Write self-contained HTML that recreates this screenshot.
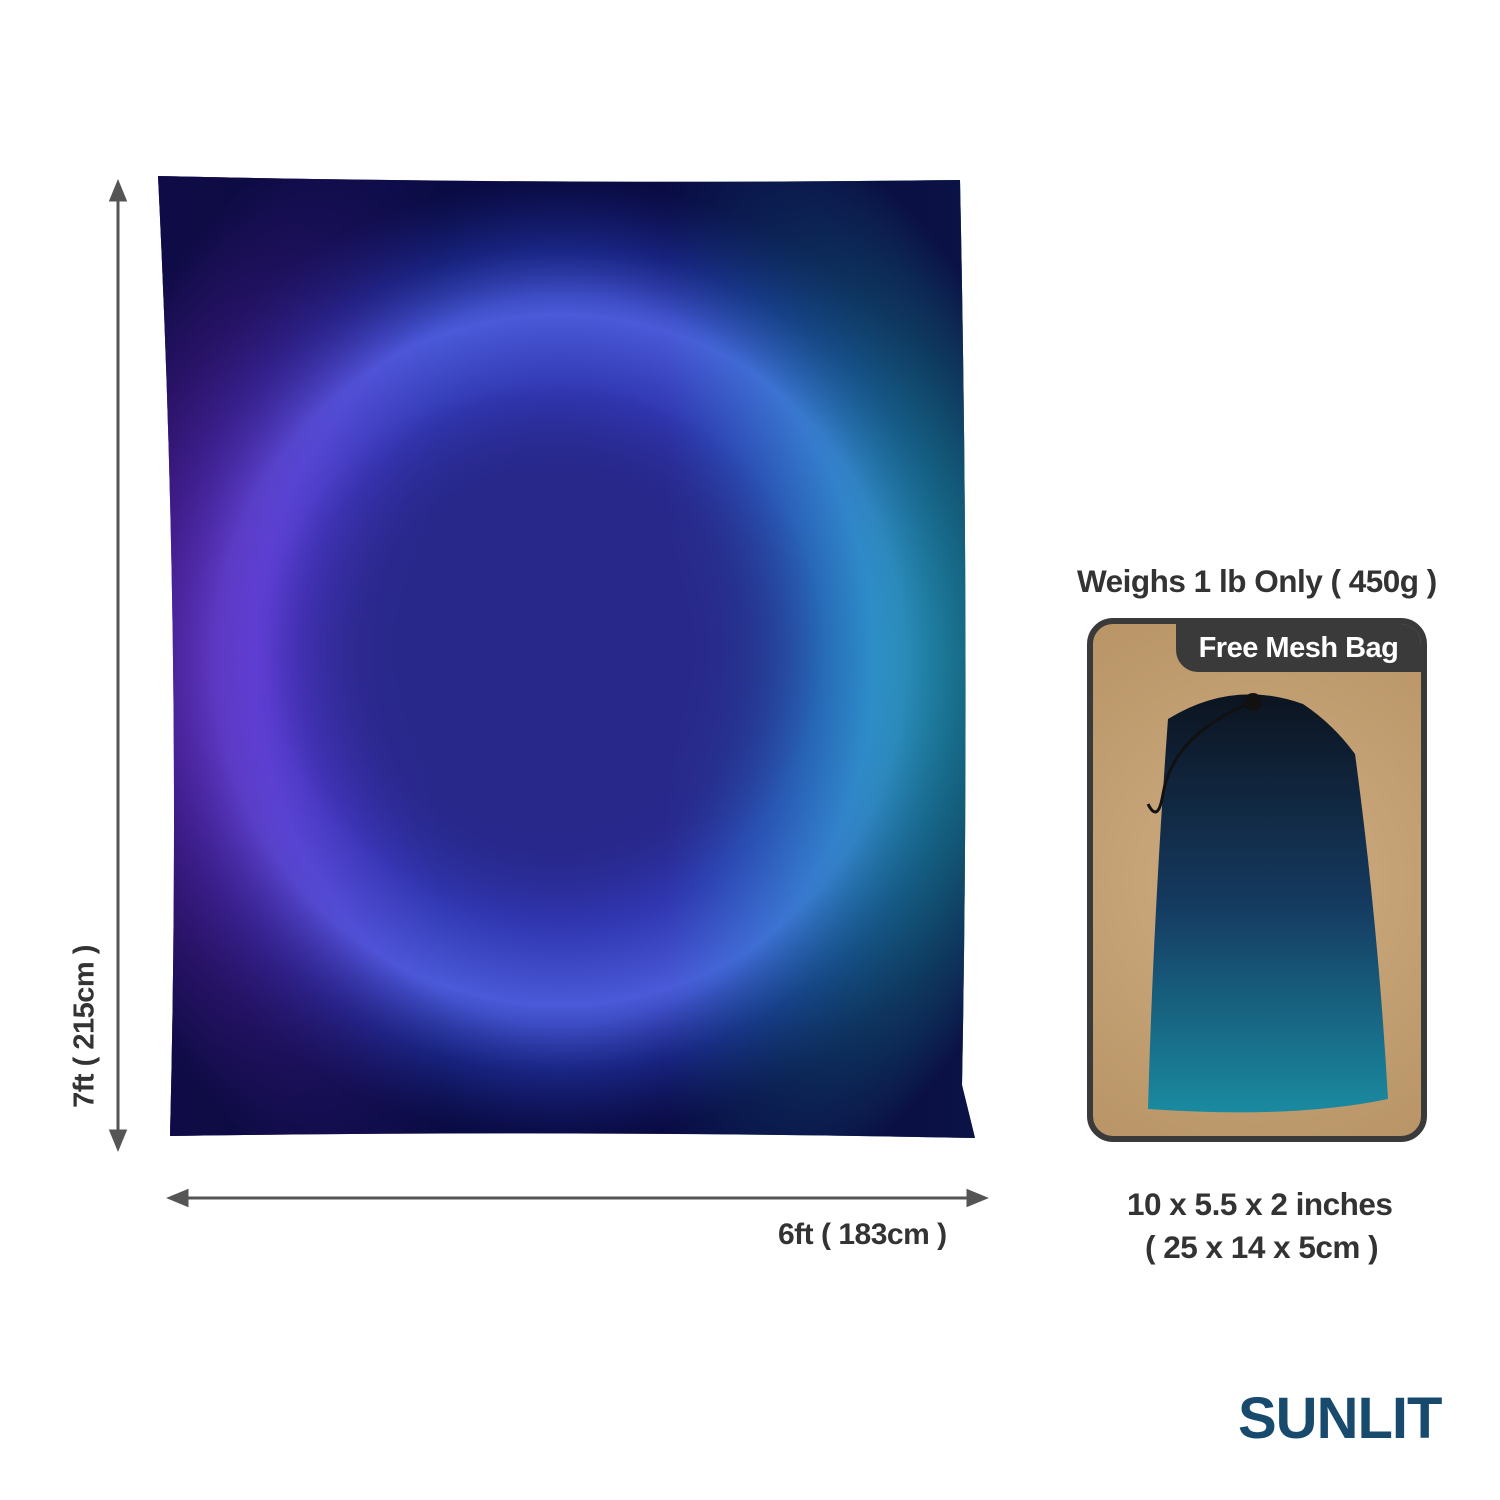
<!DOCTYPE html>
<html><head><meta charset="utf-8"><style>
body{margin:0;width:1500px;height:1500px;background:#fff;position:relative;overflow:hidden;font-family:"Liberation Sans",sans-serif;}
.t{position:absolute;font-weight:bold;color:#333;font-size:29px;letter-spacing:-0.5px;white-space:nowrap;}
</style></head><body>
<svg style="position:absolute;left:0;top:0" width="1500" height="1500">
<defs>
<radialGradient id="ring" cx="560" cy="660" r="480" gradientUnits="userSpaceOnUse">
<stop offset="0" stop-color="#2a2a88"/>
<stop offset="0.4" stop-color="#28288e"/>
<stop offset="0.55" stop-color="#3036b0"/>
<stop offset="0.72" stop-color="#4a5ad8"/>
<stop offset="0.86" stop-color="#1c2a90"/>
<stop offset="1" stop-color="#0a0c48"/>
</radialGradient>
<linearGradient id="side" x1="0" x2="1" y1="0" y2="0">
<stop offset="0" stop-color="#a030f0" stop-opacity="0.7"/>
<stop offset="0.35" stop-color="#6030d0" stop-opacity="0"/>
<stop offset="0.62" stop-color="#10a0c0" stop-opacity="0"/>
<stop offset="1" stop-color="#20e8c8" stop-opacity="0.75"/>
</linearGradient>
<radialGradient id="hole" cx="0.5" cy="0.5" r="0.5">
<stop offset="0.5" stop-color="#28288a" stop-opacity="1"/>
<stop offset="1" stop-color="#28288a" stop-opacity="0"/>
</radialGradient>
<radialGradient id="mask" cx="0.5" cy="0.5" r="0.62">
<stop offset="0.6" stop-color="#0a0a40" stop-opacity="0"/>
<stop offset="1" stop-color="#0a0a40" stop-opacity="0.95"/>
</radialGradient>
<clipPath id="bc"><path d="M158 176 Q560 185 960 180 Q970 660 962 1085 L975 1138 Q570 1130 170 1136 Q182 660 158 176Z"/></clipPath>
</defs>
<g clip-path="url(#bc)">
<rect x="150" y="170" width="830" height="980" fill="url(#ring)"/>
<rect x="150" y="170" width="830" height="980" fill="url(#side)"/>
<ellipse cx="545" cy="650" rx="280" ry="270" fill="url(#hole)"/>
<rect x="150" y="170" width="830" height="980" fill="url(#mask)"/>
</g>
<g stroke="#555" stroke-width="3" fill="#555">
<line x1="118" y1="195" x2="118" y2="1138"/>
<polygon points="118,183 111,200 125,200"/><polygon points="118,1148 111,1131 125,1131"/>
</g>
<g stroke="#555" stroke-width="3" fill="#555">
<line x1="180" y1="1198" x2="975" y2="1198"/>
<polygon points="170,1198 187,1191 187,1205"/><polygon points="985,1198 968,1191 968,1205"/>
</g>
</svg>
<div class="t" style="left:-15px;top:1010px;transform:rotate(-90deg);transform-origin:center;width:200px;text-align:center;">7ft ( 215cm )</div>
<div class="t" style="left:778px;top:1218px;font-size:30px;">6ft ( 183cm )</div>
<div class="t" style="left:1077px;top:563px;font-size:31.5px;">Weighs 1 lb Only ( 450g )</div>
<div style="position:absolute;left:1087px;top:618px;width:328px;height:512px;border:6px solid #3a3a3a;border-radius:26px;background:radial-gradient(circle at 50% 50%,#cfae82,#b89466);overflow:hidden;">
<div style="position:absolute;right:0;top:0;width:245px;height:48px;background:#3a3a3a;border-bottom-left-radius:22px;color:#fff;font-weight:bold;font-size:29px;text-align:center;line-height:48px;letter-spacing:-0.5px;">Free Mesh Bag</div>
<svg style="position:absolute;left:0;top:0" width="328" height="512">
<defs><linearGradient id="bag" x1="0" x2="0" y1="0" y2="1"><stop offset="0" stop-color="#0c1420"/><stop offset="0.5" stop-color="#153a60"/><stop offset="1" stop-color="#1a8aa0"/></linearGradient></defs>
<path d="M75 95 Q140 55 210 80 Q240 100 262 130 Q285 300 295 475 Q200 495 55 485 Q60 300 75 95Z" fill="url(#bag)"/>
<circle cx="160" cy="78" r="9" fill="#111"/>
<path d="M160 78 Q80 110 70 170 Q65 200 55 180" stroke="#111" stroke-width="3" fill="none"/>
</svg>
</div>
<div class="t" style="left:1127px;top:1186px;font-size:31.5px;">10 x 5.5 x 2 inches</div>
<div class="t" style="left:1145px;top:1229px;font-size:31.5px;">( 25 x 14 x 5cm )</div>
<div style="position:absolute;left:1238px;top:1385px;color:#184a6e;font-weight:bold;font-size:58px;letter-spacing:-1px;">SUNLIT</div>
</body></html>
